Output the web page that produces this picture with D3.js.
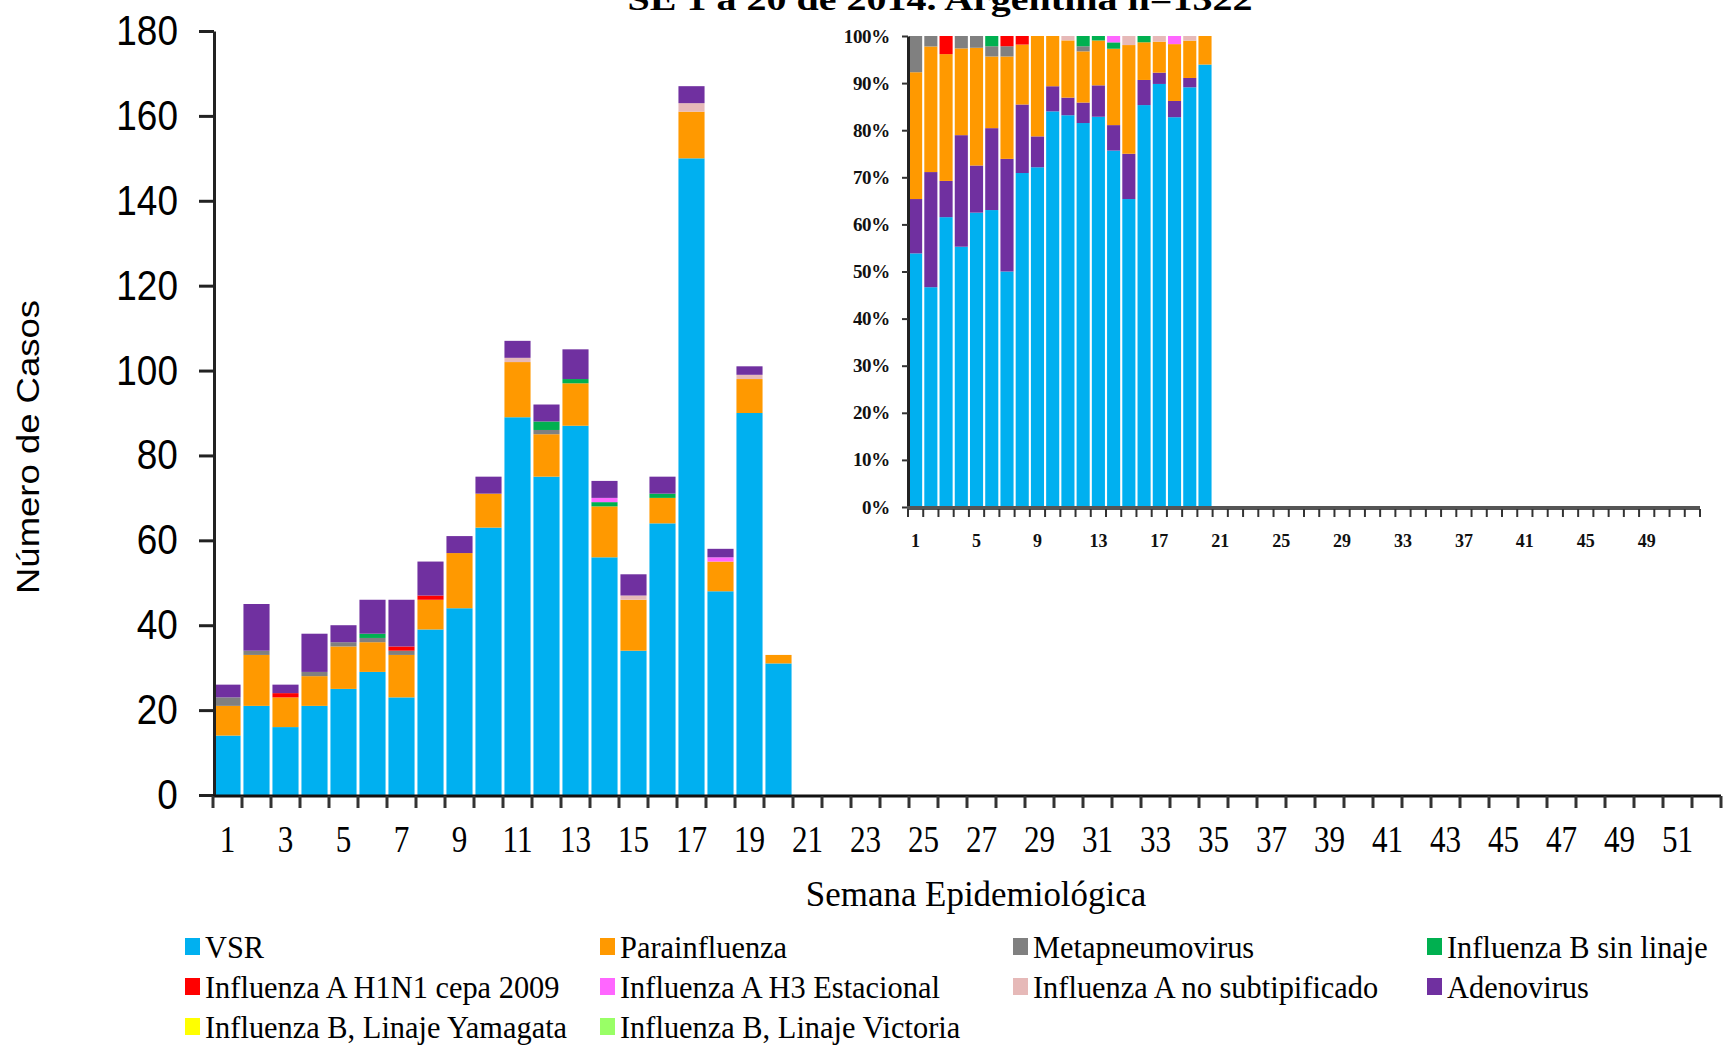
<!DOCTYPE html>
<html>
<head>
<meta charset="utf-8">
<script src="https://cdn.jsdelivr.net/npm/d3@7"></script>
<style>
  body { margin: 0; background: #fff; }
  svg { display: block; }
</style>
</head>
<body>
<svg id="chart"></svg>
<script>
const W = 1731, H = 1047;
const SERIF = "'Liberation Serif', 'DejaVu Serif', serif";
const SANS = "'Liberation Sans', Arial, sans-serif";

// weeks with data (SE 1 to 20), axis runs to week 52
const allWeeks = d3.range(1, 53);
const dataWeeks = d3.range(1, 21);

const vsr    = [14, 21, 16, 21, 25, 29, 23, 39, 44, 63, 89, 75, 87, 56, 34, 64, 150, 48, 90, 31];
const para   = [7, 12, 7, 7, 10, 7, 10, 7, 13, 8, 13, 10, 10, 12, 12, 6, 11, 7, 8, 2];
const meta   = [2, 1, 0, 1, 1, 1, 1, 0, 0, 0, 0, 1, 0, 0, 0, 0, 0, 0, 0, 0];
const infB   = [0, 0, 0, 0, 0, 1, 0, 0, 0, 0, 0, 2, 1, 1, 0, 1, 0, 0, 0, 0];
const h1n1   = [0, 0, 1, 0, 0, 0, 1, 1, 0, 0, 0, 0, 0, 0, 0, 0, 0, 0, 0, 0];
const h3     = [0, 0, 0, 0, 0, 0, 0, 0, 0, 0, 0, 0, 0, 1, 0, 0, 0, 1, 0, 0];
const noSub  = [0, 0, 0, 0, 0, 0, 0, 0, 0, 0, 1, 0, 0, 0, 1, 0, 2, 0, 1, 0];
const adeno  = [3, 11, 2, 9, 4, 8, 11, 8, 4, 4, 4, 4, 7, 4, 5, 4, 4, 2, 2, 0];
const yamag  = [0, 0, 0, 0, 0, 0, 0, 0, 0, 0, 0, 0, 0, 0, 0, 0, 0, 0, 0, 0];
const victo  = [0, 0, 0, 0, 0, 0, 0, 0, 0, 0, 0, 0, 0, 0, 0, 0, 0, 0, 0, 0];

const seriesNames = ["VSR", "Parainfluenza", "Metapneumovirus", "Influenza B sin linaje",
  "Influenza A H1N1 cepa 2009", "Influenza A H3 Estacional", "Influenza A no subtipificado",
  "Adenovirus", "Influenza B, Linaje Yamagata", "Influenza B, Linaje Victoria"];
const seriesValues = [vsr, para, meta, infB, h1n1, h3, noSub, adeno, yamag, victo];
const seriesColors = ["#00B0F0", "#FF9900", "#808080", "#00B050", "#FF0000",
  "#FF66FF", "#E6B9B8", "#7030A0", "#FFFF00", "#99FF66"];

// stacking order in the small 100% chart differs (adenovirus sits on VSR)
const insetOrder = ["VSR", "Adenovirus", "Parainfluenza", "Metapneumovirus", "Influenza B sin linaje",
  "Influenza A H1N1 cepa 2009", "Influenza A H3 Estacional", "Influenza A no subtipificado",
  "Influenza B, Linaje Yamagata", "Influenza B, Linaje Victoria"];

const yTicks = d3.range(0, 181, 20);
const mainXLabels = d3.range(1, 53, 2);
const insetXLabels = d3.range(1, 50, 4);
const insetYTicks = d3.range(0, 1.01, 0.1);

const titleText = "SE 1 a 20 de 2014. Argentina n=1322";

const color = d3.scaleOrdinal(seriesNames, seriesColors);

const rows = dataWeeks.map((w, i) => {
    const r = { week: w };
    seriesNames.forEach((s, k) => r[s] = seriesValues[k][i]);
    return r;
});

const svg = d3.select("#chart").attr("width", W).attr("height", H);

// ---------- main chart ----------
const x = d3.scaleBand().domain(allWeeks).range([213, 1721]).paddingInner(0.1).paddingOuter(0.05);
const y = d3.scaleLinear().domain([0, 180]).range([795, 31]);

const stacked = d3.stack().keys(seriesNames)(rows);

svg.append("g").selectAll("g")
    .data(stacked)
    .join("g")
    .attr("fill", d => color(d.key))
    .selectAll("rect")
    .data(d => d)
    .join("rect")
    .attr("x", d => x(d.data.week))
    .attr("width", x.bandwidth())
    .attr("y", d => y(d[1]))
    .attr("height", d => y(d[0]) - y(d[1]));

// y axis
const yAxis = svg.append("g")
    .attr("transform", "translate(214,0)")
    .call(d3.axisLeft(y).tickValues(yTicks).tickSize(15).tickSizeOuter(0).tickPadding(26));
yAxis.select(".domain").attr("stroke", "#222").attr("stroke-width", 3);
yAxis.selectAll(".tick line").attr("stroke", "#222").attr("stroke-width", 3);
yAxis.selectAll("text")
    .attr("transform", "scale(0.88,1)")
    .attr("font-family", SANS).attr("font-size", 42).attr("fill", "#000");

// x axis: ticks sit between weeks
const xAxis = svg.append("g").attr("transform", "translate(0,796)");
xAxis.append("line")
    .attr("x1", 213).attr("x2", 1721)
    .attr("stroke", "#111").attr("stroke-width", 3);
xAxis.selectAll("line.tk")
    .data(allWeeks.concat([53]))
    .join("line")
    .attr("class", "tk")
    .attr("x1", d => x.step() * (d - 1) + 213).attr("x2", d => x.step() * (d - 1) + 213)
    .attr("y1", 0).attr("y2", 12)
    .attr("stroke", "#333").attr("stroke-width", 3);
xAxis.selectAll("text")
    .data(mainXLabels)
    .join("text")
    .attr("transform", d => `translate(${x(d) + x.bandwidth() / 2},56) scale(0.82,1)`)
    .attr("text-anchor", "middle")
    .attr("font-family", SERIF).attr("font-size", 38)
    .text(d => d);

svg.append("text")
    .attr("transform", "translate(28,447) rotate(-90)")
    .attr("text-anchor", "middle")
    .attr("dominant-baseline", "central")
    .attr("font-family", SANS).attr("font-size", 32)
    .attr("textLength", 294).attr("lengthAdjust", "spacingAndGlyphs")
    .text("Número de Casos");

svg.append("text")
    .attr("transform", "translate(976,906) scale(0.97,1)")
    .attr("text-anchor", "middle")
    .attr("font-family", SERIF).attr("font-size", 36)
    .text("Semana Epidemiológica");

svg.append("text")
    .attr("x", 940).attr("y", 10)
    .attr("text-anchor", "middle")
    .attr("font-family", SERIF).attr("font-size", 32).attr("font-weight", "bold")
    .attr("textLength", 625).attr("lengthAdjust", "spacingAndGlyphs")
    .text(titleText);

// ---------- inset: percentage per week ----------
const xi = d3.scaleBand().domain(allWeeks).range([908, 1700]).paddingInner(0.14).paddingOuter(0.07);
const yi = d3.scaleLinear().domain([0, 1]).range([507, 36]);

const stackedPct = d3.stack().keys(insetOrder).offset(d3.stackOffsetExpand)(rows);

svg.append("g").selectAll("g")
    .data(stackedPct)
    .join("g")
    .attr("fill", d => color(d.key))
    .selectAll("rect")
    .data(d => d)
    .join("rect")
    .attr("x", d => xi(d.data.week))
    .attr("width", xi.bandwidth())
    .attr("y", d => yi(d[1]))
    .attr("height", d => yi(d[0]) - yi(d[1]));

const yiAxis = svg.append("g")
    .attr("transform", "translate(908,0)")
    .call(d3.axisLeft(yi).tickValues(insetYTicks).tickFormat(d3.format(".0%")).tickSize(6).tickSizeOuter(0).tickPadding(12));
yiAxis.select(".domain").attr("stroke", "#222").attr("stroke-width", 3);
yiAxis.selectAll(".tick line").attr("stroke", "#333").attr("stroke-width", 2);
yiAxis.selectAll("text")
    .attr("font-family", SERIF).attr("font-size", 19).attr("font-weight", "bold")
    .attr("letter-spacing", -0.3).attr("fill", "#111");

const xiAxis = svg.append("g").attr("transform", "translate(0,508)");
xiAxis.append("line")
    .attr("x1", 907).attr("x2", 1700)
    .attr("stroke", "#555").attr("stroke-width", 4);
xiAxis.selectAll("line.tk")
    .data(allWeeks.concat([53]))
    .join("line")
    .attr("class", "tk")
    .attr("x1", d => xi.step() * (d - 1) + 908).attr("x2", d => xi.step() * (d - 1) + 908)
    .attr("y1", 1).attr("y2", 9)
    .attr("stroke", "#333").attr("stroke-width", 2);
xiAxis.selectAll("text")
    .data(insetXLabels)
    .join("text")
    .attr("x", d => xi(d) + xi.bandwidth() / 2)
    .attr("y", 39)
    .attr("text-anchor", "middle")
    .attr("font-family", SERIF).attr("font-size", 18).attr("font-weight", "bold")
    .attr("fill", "#111")
    .text(d => d);

// ---------- legend ----------
const legendCols = [185, 600, 1013, 1427];
const legendRows = [947, 987, 1027];

const legend = svg.append("g").selectAll("g")
    .data(seriesNames)
    .join("g")
    .attr("transform", (d, i) => `translate(${legendCols[i % 4]},${legendRows[Math.floor(i / 4)]})`);

legend.append("rect")
    .attr("x", 0).attr("y", -9)
    .attr("width", 15).attr("height", 17)
    .attr("fill", d => color(d));

legend.append("text")
    .attr("transform", "translate(20,0) scale(0.95,1)")
    .attr("dominant-baseline", "central")
    .attr("font-family", SERIF).attr("font-size", 32)
    .text(d => d);
</script>
</body>
</html>
